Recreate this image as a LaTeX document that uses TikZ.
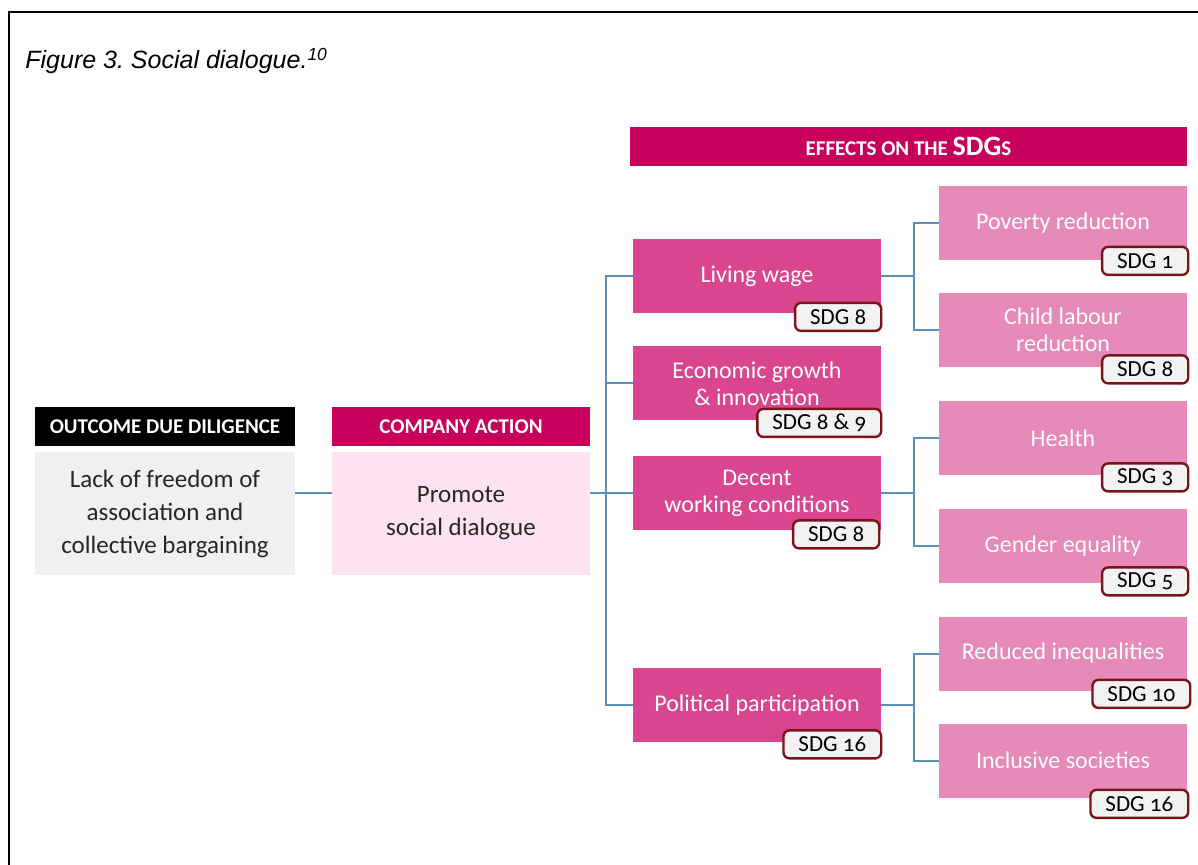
\documentclass[tikz,border=0pt]{standalone}
\usepackage{fontspec}
\setmainfont{Carlito}
\newfontfamily\titlefont{Liberation Sans}
\newfontfamily\sdgfont{Carlito}[Numbers=OldStyle]
\usetikzlibrary{positioning}

\definecolor{crimson}{HTML}{C6005B}
\definecolor{midpink}{HTML}{D9468F}
\definecolor{lightpink}{HTML}{E68AB9}
\definecolor{palepink}{HTML}{FDE3F0}
\definecolor{outgray}{HTML}{F0F0F0}
\definecolor{sdgred}{HTML}{7A1418}
\definecolor{sdggray}{HTML}{F2F2F2}
\definecolor{linkblue}{HTML}{5B8DB8}

\begin{document}
\frenchspacing
\begin{tikzpicture}[x=0.5pt, y=-0.5pt,
    head/.style={rectangle, minimum height=19.5pt, inner sep=0pt, text=white, font=\bfseries\fontsize{10.5}{12}\selectfont},
    leftbox/.style={rectangle, minimum width=130pt, minimum height=61.5pt, align=center, text=black!85, font=\fontsize{12.5}{16.5}\selectfont},
    box/.style={rectangle, minimum width=124pt, minimum height=37pt, inner sep=2pt, align=center, font=\fontsize{12}{13.5}\selectfont},
    midbox/.style={box, fill=midpink, text=white},
    effbox/.style={box, fill=lightpink, text=white!96!pink},
    sdg/.style={rectangle, draw=sdgred, line width=1.2pt, rounded corners=3pt, fill=sdggray, minimum height=14pt, inner xsep=7.5pt, inner ysep=0pt, anchor=east, font=\sdgfont\fontsize{11.5}{12}\selectfont},
    link/.style={draw=linkblue, line width=1pt},
]
\useasboundingbox (0,0) rectangle (1198,865);
\draw[line width=1.1pt] (9,865) -- (9,12) -- (1198,12);
\node[anchor=base west, inner sep=0pt, font=\titlefont\itshape\fontsize{12.5}{14}\selectfont] (ttl) at (25,69) {Figure 3. Social dialogue.\textsuperscript{10}};

% Left columns
\node[head, fill=black, minimum width=130pt] (odh) at (165,426.5) {OUTCOME DUE DILIGENCE};
\node[leftbox, fill=outgray] (od) at (165,513.5) {Lack of freedom of\\association and\\collective bargaining};
\node[head, fill=crimson, minimum width=129pt] (cah) at (461,426.5) {COMPANY ACTION};
\node[leftbox, fill=palepink, minimum width=129pt] (ca) at (461,513.5) {Promote\\social dialogue};

% Effects header
\node[head, fill=crimson, minimum width=278.5pt, font=\bfseries] (eff) at (908.5,146.5)
  {{\fontsize{10.5}{12}\selectfont EFFECTS ON THE }{\fontsize{14}{15}\selectfont SDG}{\fontsize{10.5}{12}\selectfont S}};

% First level effects
\node[midbox] (lw) at (757,276.5) {Living wage};
\node[midbox] (eg) at (757,383.5) {Economic growth\\\& innovation};
\node[midbox] (dw) at (757,493) {Decent\\working conditions};
\node[midbox] (pp) at (757,705) {Political participation};

% Second level effects
\node[effbox] (pr) at (1063,223.5) {Poverty reduction};
\node[effbox] (cl) at (1063,330) {Child labour\\reduction};
\node[effbox] (he) at (1063,438) {Health};
\node[effbox] (ge) at (1063,546) {Gender equality};
\node[effbox] (ri) at (1063,653.5) {Reduced inequalities};
\node[effbox] (is) at (1063,760.5) {Inclusive societies};

% SDG tags
\node[sdg] (lwt) at ([xshift=0.5pt, yshift=-1.5pt]lw.south east) {SDG 8};
\node[sdg] (egt) at ([xshift=0.5pt, yshift=-1pt]eg.south east) {SDG 8 \& 9};
\node[sdg] (dwt) at ([xshift=-0.5pt, yshift=-2pt]dw.south east) {SDG 8};
\node[sdg] (ppt) at ([xshift=0.5pt, yshift=-1pt]pp.south east) {SDG 16};
\node[sdg] (prt) at ([xshift=1pt]pr.south east) {SDG 1};
\node[sdg] (clt) at ([xshift=1pt, yshift=-1pt]cl.south east) {SDG 8};
\node[sdg] (het) at ([xshift=1pt, yshift=-1pt]he.south east) {SDG 3};
\node[sdg] (get) at ([xshift=1pt, yshift=1pt]ge.south east) {SDG 5};
\node[sdg] (rit) at ([xshift=2pt, yshift=-1.5pt]ri.south east) {SDG 10};
\node[sdg] (ist) at ([xshift=1pt, yshift=-3pt]is.south east) {SDG 16};

% Connectors
\draw[link] (od.east |- dw.west) -- (ca.west |- dw.west);
\draw[link] (ca.east |- dw.west) -- (dw.west);
\draw[link] (lw.west) -- ++(-27,0) |- (pp.west);
\draw[link] (eg.west) -- ++(-27,0);
\draw[link] (lw.east) -- ++(33,0);
\draw[link] (dw.east) -- ++(33,0);
\draw[link] (pp.east) -- ++(33,0);
\draw[link] (pr.west) -- ++(-25,0) |- (cl.west);
\draw[link] (he.west) -- ++(-25,0) |- (ge.west);
\draw[link] (ri.west) -- ++(-25,0) |- (is.west);
\end{tikzpicture}
\end{document}
